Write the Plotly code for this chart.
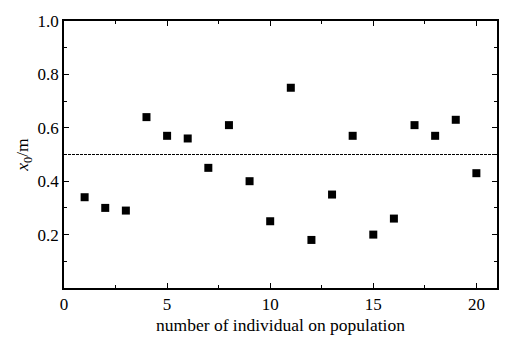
import plotly.graph_objects as go

# individual index and measured x0 values (m)
individual = list(range(1, 21))
x0_values = [0.34, 0.30, 0.29, 0.64, 0.57, 0.56, 0.45, 0.61, 0.40, 0.25,
             0.75, 0.18, 0.35, 0.57, 0.20, 0.26, 0.61, 0.57, 0.63, 0.43]
reference_level = 0.5

x_ticks = [0, 5, 10, 15, 20]
y_ticks = [0.2, 0.4, 0.6, 0.8, 1.0]
y_tick_text = ["0.2", "0.4", "0.6", "0.8", "1.0"]

tick_font = dict(family="Liberation Serif", size=17, color="black")
title_font = dict(family="Liberation Serif", size=17.5, color="black")

fig = go.Figure()
fig.add_trace(go.Scatter(
    x=individual, y=x0_values, mode="markers",
    marker=dict(symbol="square", size=8, color="black"),
    showlegend=False,
))

fig.add_shape(type="line", xref="paper", yref="y", x0=0, x1=1,
              y0=reference_level, y1=reference_level,
              line=dict(color="black", width=1, dash="3px,1px"))

axis_common = dict(
    showline=True, linecolor="black", linewidth=1.5, mirror="ticks",
    ticks="inside", ticklen=5, tickwidth=1, tickcolor="black",
    showgrid=False, zeroline=False, tickfont=tick_font,
)

fig.update_xaxes(
    range=[0, 21], tickvals=x_ticks,
    minor=dict(ticks="inside", ticklen=3, tickmode="linear", tick0=0, dtick=2.5,
               showgrid=False, tickcolor="black"),
    title=dict(text="number of individual on population", font=title_font, standoff=6),
    **axis_common,
)
fig.update_yaxes(
    range=[0, 1.0], tickvals=y_ticks, ticktext=y_tick_text,
    minor=dict(ticks="inside", ticklen=3, tickmode="linear", tick0=0, dtick=0.1,
               showgrid=False, tickcolor="black"),
    title=dict(text="<i>x</i><sub>0</sub>/m", font=title_font, standoff=4),
    **axis_common,
)

fig.update_layout(
    width=514, height=344,
    margin=dict(l=64, r=17, t=14, b=56),
    plot_bgcolor="white", paper_bgcolor="white",
    font=tick_font,
)

fig.write_html("out.html")
